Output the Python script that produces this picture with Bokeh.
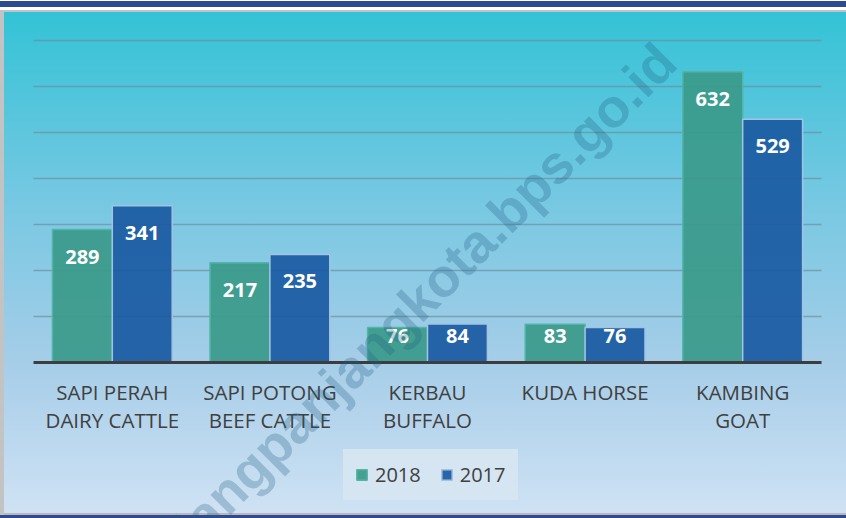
from bokeh.plotting import figure
from bokeh.models import ColumnDataSource, Range1d, Label, Legend, LegendItem
from bokeh.core.properties import value
from bokeh.embed import file_html
from bokeh.resources import INLINE

# ---- data ----
categories = ["SAPI PERAH\nDAIRY CATTLE", "SAPI POTONG\nBEEF CATTLE", "KERBAU\nBUFFALO",
              "KUDA HORSE", "KAMBING\nGOAT"]
series = ["2018", "2017"]
values_2018 = [289, 217, 76, 83, 632]
values_2017 = [341, 235, 84, 76, 529]
y_ticks = [100, 200, 300, 400, 500, 600, 700]
watermark = "jangpanjangkota.bps.go.id"

GREEN = "#3a9a8a"
BLUE = "#1a5aa2"
TXT = "#404040"

bg = ("linear-gradient(to right, #c3c3c3 0px, #c3c3c3 4px, transparent 4px) 0px 10px / 100% 505px no-repeat, "
      "linear-gradient(to bottom, #ffffff 0px, #ffffff 1px, #2d4a93 1px, #2d4a93 7px, #ffffff 7px, "
      "#ffffff 10px, #c3c3c3 10px, #c3c3c3 12px, #33c3d6 12px, #76c8e2 200px, #a5cde8 360px, "
      "#cfe2f4 513px, #b9b9b9 513px, #b9b9b9 515px, #2d4a93 515px, #2d4a93 518px)")

n = len(categories)
p = figure(width=846, height=518, output_backend="svg", toolbar_location=None,
           x_range=Range1d(-0.2094, n + 0.1586), y_range=Range1d(-339.1, 787.0),
           x_axis_location=None, y_axis_location=None,
           min_border=0, min_border_left=0, min_border_right=0,
           min_border_top=0, min_border_bottom=0,
           styles={"position": "absolute", "left": "0px", "top": "0px", "background": bg})
p.border_fill_alpha = 0
p.background_fill_alpha = 0
p.outline_line_alpha = 0
p.grid.visible = False

centers = [i + 0.5 for i in range(n)]
src = ColumnDataSource(dict(
    xc=centers,
    x18=[c - 0.19 for c in centers], x17=[c + 0.19 for c in centers],
    v18=values_2018, v17=values_2017,
    l18=[max(v, 116) for v in values_2018], l17=[max(v, 116) for v in values_2017],
    t18=[str(v) for v in values_2018], t17=[str(v) for v in values_2017],
    cat=categories, zero=[0] * n,
))

# grid lines across the category span
p.segment(x0=[0] * len(y_ticks), x1=[n] * len(y_ticks), y0=y_ticks, y1=y_ticks,
          line_color="#6e8fa0", line_alpha=0.7, line_width=1.5)

r18 = p.vbar(x="x18", top="v18", width=0.38, source=src,
             fill_color=GREEN, fill_alpha=0.92, line_color="#52b5aa", line_width=1.5)
r17 = p.vbar(x="x17", top="v17", width=0.38, source=src,
             fill_color=BLUE, fill_alpha=0.92, line_color="#a3c3e3", line_width=1.5)

# category axis line
p.segment(x0=[0], x1=[n], y0=[0], y1=[0], line_color="#3d3d3d", line_width=3)

for xc, lc, tc in (("x18", "l18", "t18"), ("x17", "l17", "t17")):
    p.text(x=xc, y=lc, text=tc, source=src,
           text_align="center", text_baseline="alphabetic", y_offset=27,
           text_color="white", text_font=value("Open Sans"), text_font_style="bold",
           text_font_size="20px")

# category labels
p.text(x="xc", y="zero", text="cat", source=src, text_align="center", text_baseline="top",
       y_offset=15, text_color=TXT, text_font=value("Open Sans"), text_font_size="20.5px",
       text_line_height=1.03)

wm = Label(x=2.481, y=148, text=watermark, angle=45, angle_units="deg",
           text_align="center", text_baseline="middle",
           text_font="Liberation Sans", text_font_style="bold", text_font_size="54px",
           text_color="#1f5f80", text_alpha=0.28)
p.add_layout(wm)

legend = Legend(items=[LegendItem(label=series[0], renderers=[r18]),
                       LegendItem(label=series[1], renderers=[r17])],
                orientation="horizontal", location=(343, 18),
                glyph_width=13, glyph_height=13, label_standoff=7, spacing=19,
                padding=12, margin=0,
                label_text_font="Open Sans", label_text_font_size="20px",
                label_text_color=TXT,
                background_fill_color="#d6e5f2", background_fill_alpha=1,
                border_line_alpha=0)
p.add_layout(legend)

open("out.html", "w").write(file_html(p, INLINE))
